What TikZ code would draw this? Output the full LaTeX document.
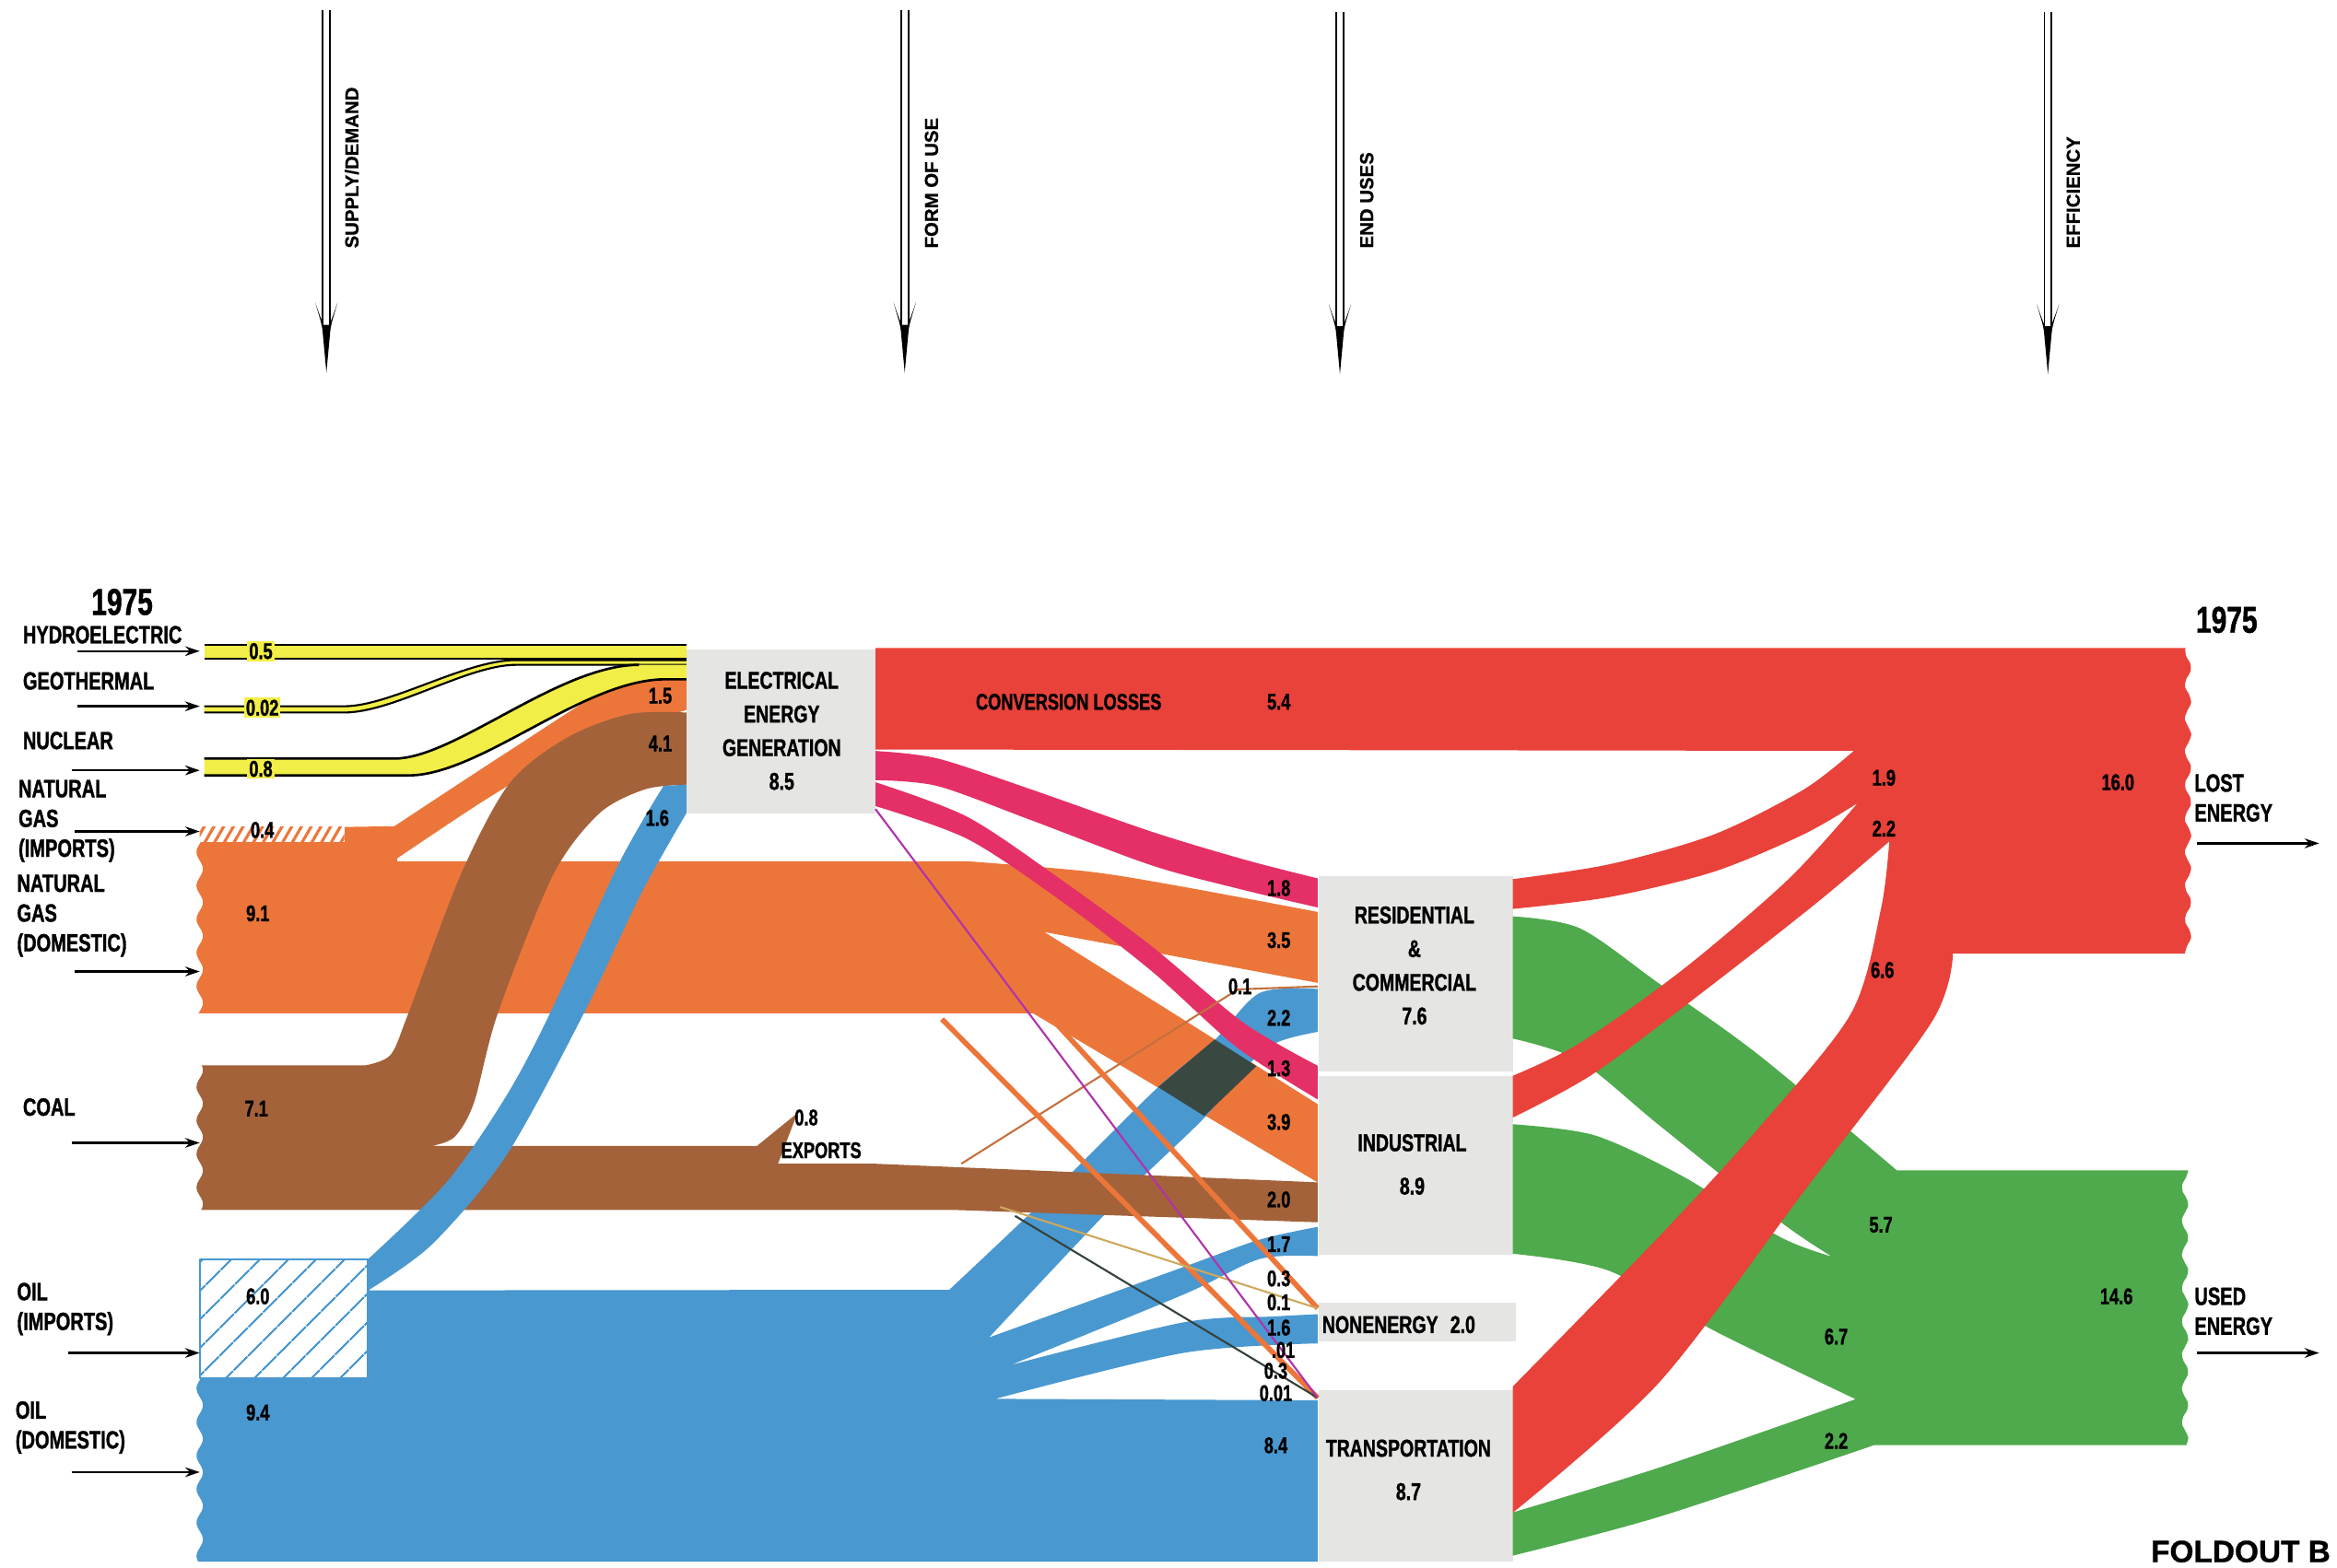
\documentclass[tikz,border=0pt]{standalone}
\usepackage{fontspec}
\setmainfont{Liberation Sans}
\newfontfamily\cond{Liberation Sans Bold}[FakeStretch=0.74, FakeBold=1.2]
\newfontfamily\heavy{Liberation Sans Bold}[FakeBold=0.8]
\usetikzlibrary{arrows.meta,patterns.meta}
\definecolor{hydroyel}{RGB}{242,238,72}
\definecolor{gasor}{RGB}{236,118,58}
\definecolor{coalbr}{RGB}{163,98,58}
\definecolor{oilblue}{RGB}{74,152,208}
\definecolor{elpink}{RGB}{228,48,102}
\definecolor{lostred}{RGB}{232,66,58}
\definecolor{usedgreen}{RGB}{78,170,76}
\definecolor{boxgray}{RGB}{229,229,227}
\definecolor{darkov}{RGB}{58,72,66}
\definecolor{coalline}{RGB}{196,112,62}
\definecolor{tanline}{RGB}{206,168,92}
\definecolor{darkline}{RGB}{52,66,58}
\definecolor{magline}{RGB}{176,50,170}
\begin{document}
\begin{tikzpicture}[x=0.16173mm, y=-0.16173mm, line join=round, >={Stealth[length=4.5pt,width=3pt]},
	lbl/.style={font=\cond\fontsize{7.7}{9.2}\selectfont, align=left, anchor=west, inner sep=0pt},
	val/.style={font=\cond\fontsize{7}{8}\selectfont, inner sep=0.6pt},
	sect/.style={font=\cond\fontsize{7.5}{10.4}\selectfont, align=center, inner sep=0pt},
	year/.style={font=\cond\fontsize{11.5}{13}\selectfont, inner sep=0pt},
	axislbl/.style={font=\heavy\fontsize{5.8}{7}\selectfont, rotate=90, anchor=west, inner sep=0pt},
	feed/.style={->, line width=0.7pt},
	band/.style={draw=black, line width=0.75pt},
	tear/.style={variable=\t, samples=40, smooth}]
	\tikzset{axisarrow/.pic={
			\draw[line width=0.5pt] (-2.4,0) -- (-2.4,211) (2.4,0) -- (2.4,211);
			\fill (-7.5,196) .. controls (-5,205) and (-3,210) .. (-2.5,216) -- (0,243) -- (2.5,216) .. controls (3,210) and (5,205) .. (7.5,196) .. controls (4.5,205) and (3,208) .. (2.2,211) -- (-2.2,211) .. controls (-3,208) and (-4.5,205) .. (-7.5,196) -- cycle;
	}}
	\useasboundingbox (0,0) rectangle (1568,1052);
	\clip (0,0) rectangle (1568,1052);
	% column heads
	\pic at (219,7) {axisarrow};
	\pic at (607,7) {axisarrow};
	\pic at (899,8) {axisarrow};
	\pic at (1374,8) {axisarrow};
	\node[axislbl] (supply) at (236,167) {SUPPLY/DEMAND};
	\node[axislbl] (formuse) at (625,167) {FORM OF USE};
	\node[axislbl] (enduse) at (917,167) {END USES};
	\node[axislbl] (effic) at (1391,167) {EFFICIENCY};
	% sector boxes
	\fill[boxgray] (460.6,436) rectangle (587.4,546);
	\fill[boxgray] (885,588) rectangle (1015,719);
	\fill[boxgray] (885,722) rectangle (1015,842);
	\fill[boxgray] (885,874) rectangle (1017,900);
	\fill[boxgray] (885,933) rectangle (1015,1048);
	% natural gas
	\fill[gasor] (134,565) -- (231,565) -- (231,555) -- (264.6,554.5)
	-- plot[smooth] coordinates {(264.6,554.5) (340,505) (412,459.6) (440,456) (460.6,456)}
	-- (460.6,476.5)
	-- plot[smooth] coordinates {(460.6,476.5) (390,500) (330,534) (266.6,576)}
	-- (266.6,578) -- (649,578)
	-- plot[smooth] coordinates {(649,578) (731,585) (793,595) (884,612)}
	-- (884,659.6) -- (700.7,625.5) -- (884,741) -- (884,793.5) -- (693,680) -- (134,680)
	-- plot[tear, domain=680:565] ({134+2.2*sin(16*(\t-600))},\t) -- cycle;
	\fill[white] (134,555) rectangle (231,565);
	\fill[pattern={Lines[angle=60,distance=2.6pt,line width=0.9pt]}, pattern color=gasor] (134,555) rectangle (231,565);
	% oil
	\fill[oilblue] (134,925) -- (247,925) -- (247,866) -- (636.9,865.6)
	-- plot[smooth] coordinates {(636.9,865.6) (698.7,807.1) (777,729.6) (814,699) (845,666.5) (884,663.7)}
	-- (884,692.5)
	-- plot[smooth] coordinates {(884,692.5) (856,700) (832,720) (808,750.2) (746.1,810) (663.6,897.6)}
	-- plot[smooth] coordinates {(663.6,897.6) (793.8,850.4) (845,832) (884,823.4)}
	-- (884,843)
	-- plot[smooth] coordinates {(884,843) (845,845) (793.8,868.9) (678.1,916.1)}
	-- plot[smooth] coordinates {(678.1,916.1) (793.8,887.5) (855,883.5) (884,882)}
	-- (884,901.6)
	-- plot[smooth] coordinates {(884,901.6) (793.8,908) (667.8,938.8)}
	-- (884,939.8) -- (884,1048) -- (134,1048)
	-- plot[tear, domain=1048:925] ({134+2.2*sin(16*(\t-600))},\t) -- cycle;
	% coal
	\fill[coalbr] (134,715) -- (245,715)
	-- plot[smooth] coordinates {(245,715) (262,708) (274,680) (309,587.3) (342,525.5) (381.3,494.6) (422.5,479.2) (460.6,478.2)}
	-- (460.6,526.6)
	-- plot[smooth] coordinates {(460.6,526.6) (432.9,529.7) (402,546) (371,587.3) (334,680) (318,740) (305,763) (290,769)}
	-- (508,769) -- (535,747) -- (522,781) -- (587,781) -- (884,793.5) -- (884,820.3) -- (640,812) -- (134,812)
	-- plot[tear, domain=812:715] ({134+2.2*sin(16*(\t-600))},\t) -- cycle;
	% oil to electricity
	\fill[oilblue] (247,845)
	-- plot[smooth] coordinates {(247,845) (300,793) (340,735) (369,680.1) (415,580) (445.2,527.4)}
	-- (460.6,526.6) -- (460.6,545.6)
	-- plot[smooth] coordinates {(460.6,545.6) (430,600) (391.7,680.1) (340,775) (290,835) (247,866)}
	-- cycle;
	\fill[darkov] (777,729.6) -- (808,749) -- (843,715.5) -- (815,697.6) -- cycle;
	% electricity
	\fill[elpink] plot[smooth] coordinates {(587.4,504) (628.9,509) (690.7,529.4) (773.1,558.3) (834.9,576.9) (884,589.5)}
	-- (884,609)
	-- plot[smooth] coordinates {(884,609) (834.9,597.4) (773.1,580.9) (690.7,550) (628.9,527.5) (587.4,523.6)} -- cycle;
	\fill[elpink] plot[smooth] coordinates {(587.4,525) (649,548.2) (710.6,589.4) (772.4,634.8) (834.2,686.3) (884,715.2)}
	-- (884,737.8)
	-- plot[smooth] coordinates {(884,737.8) (830,703) (773,652) (711,604) (649,563) (587.4,541)} -- cycle;
	% small flows
	\draw[coalline, line width=0.6pt] (645,781) -- (830.6,664) -- (884,662);
	\draw[gasor, line width=1.6pt] (706,684) -- (884,878);
	\draw[gasor, line width=1.6pt] (632,684) -- (884,938);
	\draw[tanline, line width=0.6pt] (671,810) -- (884,878);
	\draw[darkline, line width=0.6pt] (681,816) -- (884,938);
	\draw[magline, line width=0.6pt] (587.4,543) -- (884,938);
	% hydro, geothermal, nuclear
	\fill[hydroyel] (137,432.8) rectangle (460.6,442);
	\draw[band] (137,432.8) -- (460.6,432.8) (137,442) -- (460.6,442);
	\fill[hydroyel] (137,474) -- (230.8,474) .. controls (262,474) and (312,443) .. (346,443) -- (460.6,443) -- (460.6,446.2) -- (346,446.2) .. controls (314,446.2) and (264,478.2) .. (230.8,478.2) -- (137,478.2) -- cycle;
	\draw[band, line width=0.6pt] (137,474) -- (230.8,474) .. controls (262,474) and (312,443) .. (346,443) -- (460.6,443)
	(137,478.2) -- (230.8,478.2) .. controls (264,478.2) and (314,446.2) .. (346,446.2) -- (460.6,446.2);
	\fill[hydroyel] (137,509.1) -- (264.6,509.1) .. controls (305,509.1) and (375,446.2) .. (428.7,446.2) -- (460.6,446.2) -- (460.6,455.9) -- (445,455.9) .. controls (390,457) and (322,520.4) .. (274,520.4) -- (137,520.4) -- cycle;
	\draw[band] (137,509.1) -- (264.6,509.1) .. controls (305,509.1) and (375,446.2) .. (428.7,446.2)
	(137,520.4) -- (274,520.4) .. controls (322,520.4) and (390,457) .. (445,455.9) -- (460.6,455.9);
	% used energy
	\fill[usedgreen] plot[smooth] coordinates {(1015,615) (1060,623) (1113,660) (1180,708) (1272.6,785.4)}
	-- (1466,785.4) -- plot[tear, domain=785.4:969.8] ({1466+2.2*sin(16*(\t-600))},\t) -- (1257.6,969.8)
	-- plot[smooth] coordinates {(1257.6,969.8) (1113,1018) (1015,1044)}
	-- (1015,1015)
	-- plot[smooth] coordinates {(1015,1015) (1113,985) (1245,939)}
	-- plot[smooth] coordinates {(1245,939) (1150,893) (1080,853) (1015,841.4)}
	-- (1015,754.5)
	-- plot[smooth] coordinates {(1015,754.5) (1070,762) (1130,790) (1194,830) (1229,843.3)}
	-- plot[smooth] coordinates {(1229,843.3) (1194,819.6) (1113,755) (1060,712) (1015,697)}
	-- cycle;
	% lost energy
	\fill[lostred] (587.4,434.9) -- (1468,434.9) -- plot[tear, domain=434.9:640] ({1468+2.2*sin(16*(\t-600))},\t) -- (1310.3,640)
	-- plot[smooth] coordinates {(1310.3,640) (1296,686) (1210,800) (1113,928) (1015,1015.2)}
	-- (1015,930.5)
	-- plot[smooth] coordinates {(1015,930.5) (1113,830) (1180,757) (1242,680) (1262,610) (1267.6,564.7)}
	-- plot[smooth] coordinates {(1267.6,564.7) (1220,605) (1150,660) (1070,720) (1015,750)}
	-- (1015,722)
	-- plot[smooth] coordinates {(1015,722) (1060,700) (1130,650) (1200,590) (1246.3,539)}
	-- plot[smooth] coordinates {(1246.3,539) (1210,560) (1150,585) (1080,602) (1015,610)}
	-- (1015,590)
	-- plot[smooth] coordinates {(1015,590) (1080,580) (1150,560) (1210,530) (1243.8,503.9)}
	-- (587.4,503) -- cycle;
	% oil imports
	\fill[white] (134,845) rectangle (247,925);
	\fill[pattern={Lines[angle=45,distance=6.5pt,line width=0.6pt]}, pattern color=oilblue] (134,845) rectangle (247,925);
	\draw[oilblue, line width=0.6pt] (134,845) rectangle (247,925);
	% sources
	\node[year] (yearl) at (82,404) {1975};
	\node[lbl] (hydro) at (15,426) {HYDROELECTRIC};
	\node[lbl] (geo) at (15,457) {GEOTHERMAL};
	\node[lbl] (nuc) at (15,497) {NUCLEAR};
	\node[lbl] (ngimp) at (12,551) {NATURAL\\GAS\\(IMPORTS)};
	\node[lbl] (ngdom) at (11,614.5) {NATURAL\\GAS\\(DOMESTIC)};
	\node[lbl] (coal) at (15,743) {COAL};
	\node[lbl] (oilimp) at (11,878.5) {OIL\\(IMPORTS)};
	\node[lbl] (oildom) at (10,958) {OIL\\(DOMESTIC)};
	\foreach \nm/\xs/\yy in {hydro/52/437, geo/52/474, nuc/48/517, ngi/50/558, ngd/50/652, coal/48/767, oili/46/908, oild/48/988}{
		\coordinate (\nm-s) at (\xs,\yy);
		\coordinate (\nm-e) at (134,\yy);
		\draw[feed] (\nm-s) -- (\nm-e);
	}
	% sectors
	\node[sect] (elec) at (524.5,490.5) {ELECTRICAL\\ENERGY\\GENERATION\\8.5};
	\node[sect] (resc) at (949,648) {RESIDENTIAL\\\&\\COMMERCIAL\\7.6};
	\node[sect] (indus) at (947.5,781.5) {INDUSTRIAL\\[3pt]8.9};
	\node[sect] (nonen) at (938.5,889) {NONENERGY\enspace 2.0};
	\node[sect] (trans) at (945,986.5) {TRANSPORTATION\\[3pt]8.7};
	% values
	\foreach \nm/\xx/\yy/\tx in {v05/175/437/0.5, v002/176/475/0.02, v08n/175/516/0.8}
	\node[val, fill=hydroyel] (\nm) at (\xx,\yy) {\tx};
	\foreach \nm/\xx/\yy/\tx in {v04/176/557/0.4, v91/173/613/9.1, v71/172/744/7.1, v60/173/870/6.0, v94/173/948/9.4,
		v15/443/467/1.5, v41/443/499/4.1, v16e/441/549/1.6, conv/717/471/CONVERSION LOSSES, v54/858/471/5.4,
		v18/858/596/1.8, v35/858/631/3.5, v01r/832/662/0.1, v22r/858/683/2.2, v13/858/717/1.3, v39/858/753/3.9,
		v20/858/805/2.0, v17/858/835/1.7, v03n/858/858/0.3, v01n/858/874/0.1, v16n/858/891/1.6, v001n/861/906/.01,
		v03t/856/920/0.3, v001t/856/935/0.01, v84/856/970/8.4, v08x/541/750/0.8, exports/551/772/EXPORTS,
		v19/1264/522/1.9, v22l/1264/556/2.2, v160/1421/525/16.0, v66/1263/651/6.6,
		v57/1262/822/5.7, v67/1232/897/6.7, v22u/1232/967/2.2, v146/1420/870/14.6}
	\node[val] (\nm) at (\xx,\yy) {\tx};
	% outputs
	\node[year] (yearr) at (1494,416) {1975};
	\node[lbl] (lost) at (1472,535.5) {LOST\\ENERGY};
	\node[lbl] (used) at (1472,880) {USED\\ENERGY};
	\coordinate (lost-s) at (1474,566);
	\coordinate (lost-e) at (1556,566);
	\coordinate (used-s) at (1474,908);
	\coordinate (used-e) at (1556,908);
	\draw[feed] (lost-s) -- (lost-e);
	\draw[feed] (used-s) -- (used-e);
	\node[anchor=south east, inner sep=0pt, font=\heavy\fontsize{9.5}{10}\selectfont] (foldout) at (1564,1049) {FOLDOUT B};
\end{tikzpicture}
\end{document}
